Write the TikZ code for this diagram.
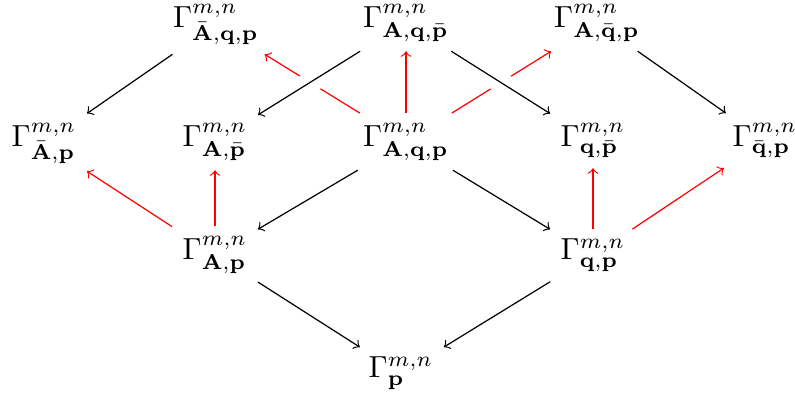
\documentclass[tikz,border=0pt]{standalone}
\usepackage{amsmath}
\begin{document}
\begin{tikzpicture}[x=0.328pt,y=-0.328pt,
  cell/.style={anchor=base, inner xsep=3.3pt, inner ysep=3.1pt},
  mapto/.style={->, black},
  lift/.style={->, red},
  over/.style={preaction={draw=white, -, line width=7pt}}]
\useasboundingbox (0,0) rectangle (795,409);

% top row
\node[cell] (AbqP) at (216,28) {$\Gamma^{m,n}_{\bar{\mathbf{A}},\mathbf{q},\mathbf{p}}$};
\node[cell] (AqPb) at (406,28) {$\Gamma^{m,n}_{\mathbf{A},\mathbf{q},\bar{\mathbf{p}}}$};
\node[cell] (AQbp) at (597,28) {$\Gamma^{m,n}_{\mathbf{A},\bar{\mathbf{q}},\mathbf{p}}$};
% middle row
\node[cell] (AbP) at (44,147) {$\Gamma^{m,n}_{\bar{\mathbf{A}},\mathbf{p}}$};
\node[cell] (APb) at (215,147) {$\Gamma^{m,n}_{\mathbf{A},\bar{\mathbf{p}}}$};
\node[cell] (AqP) at (406,147) {$\Gamma^{m,n}_{\mathbf{A},\mathbf{q},\mathbf{p}}$};
\node[cell] (qPb) at (593,147) {$\Gamma^{m,n}_{\mathbf{q},\bar{\mathbf{p}}}$};
\node[cell] (QbP) at (765,147) {$\Gamma^{m,n}_{\bar{\mathbf{q}},\mathbf{p}}$};
% third row
\node[cell] (AP) at (215,260) {$\Gamma^{m,n}_{\mathbf{A},\mathbf{p}}$};
\node[cell] (qP) at (593,260) {$\Gamma^{m,n}_{\mathbf{q},\mathbf{p}}$};
% bottom
\node[cell] (P) at (401,378) {$\Gamma^{m,n}_{\mathbf{p}}$};

% red arrows (drawn first so black ones pass over them)
\draw[lift] (AqP) -- (AbqP);
\draw[lift] (AqP) -- (AqPb);
\draw[lift] (AqP) -- (AQbp);
\draw[lift] (AP) -- (AbP);
\draw[lift] (AP) -- (APb);
\draw[lift] (qP) -- (qPb);
\draw[lift] (qP) -- (QbP);

% black arrows
\draw[mapto] (AbqP) -- (AbP);
\draw[mapto, over] (AqPb) -- (APb);
\draw[mapto, over] (AqPb) -- (qPb);
\draw[mapto] (AQbp) -- (QbP);
\draw[mapto] (AqP) -- (AP);
\draw[mapto] (AqP) -- (qP);
\draw[mapto] (AP) -- (P);
\draw[mapto] (qP) -- (P);
\end{tikzpicture}
\end{document}
